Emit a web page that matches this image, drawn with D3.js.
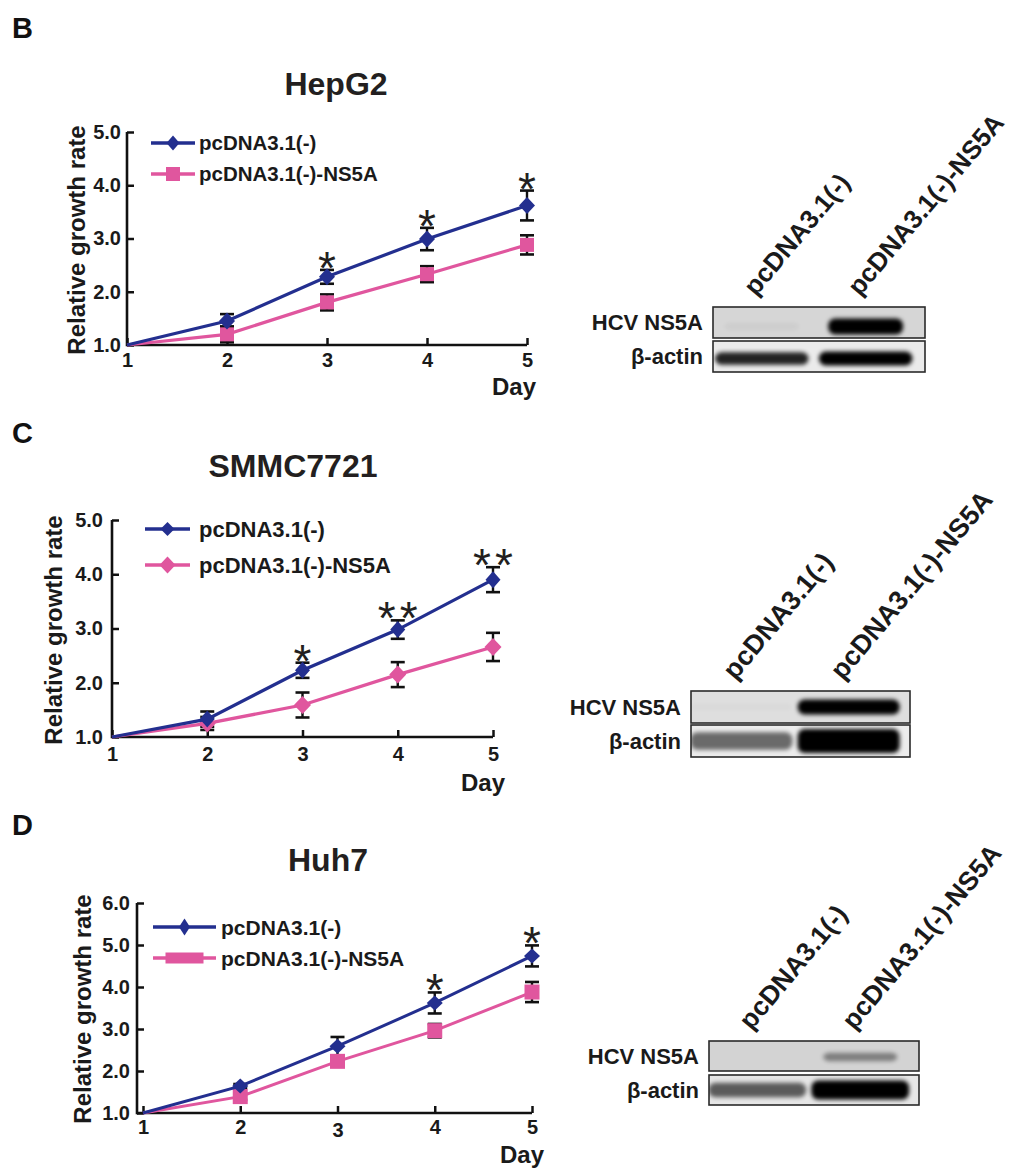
<!DOCTYPE html>
<html>
<head>
<meta charset="utf-8">
<script src="https://cdn.jsdelivr.net/npm/d3@7"></script>
<style>
  body { margin: 0; background: #fff; }
  svg text { font-family: "Liberation Sans", Arial, sans-serif; font-weight: bold; fill: #1a1a1a; }
</style>
</head>
<body>
<svg id="fig" width="1024" height="1172"></svg>
<script>
// ---- data ----
const days = [1, 2, 3, 4, 5];
const seriesNames = ["pcDNA3.1(-)", "pcDNA3.1(-)-NS5A"];
const yTicks5 = [1, 2, 3, 4, 5];
const yTicks6 = [1, 2, 3, 4, 5, 6];

// HepG2
const hepg2Ctrl = [1.0, 1.45, 2.28, 2.99, 3.62];
const hepg2CtrlErr = [0, 0.13, 0.13, 0.21, 0.28];
const hepg2Ns5a = [1.0, 1.20, 1.80, 2.33, 2.88];
const hepg2Ns5aErr = [0, 0.15, 0.15, 0.15, 0.18];
const hepg2Stars = ["", "", "*", "*", "*"];

// SMMC7721
const smmcCtrl = [1.0, 1.33, 2.23, 2.98, 3.90];
const smmcCtrlErr = [0, 0.14, 0.14, 0.17, 0.23];
const smmcNs5a = [1.0, 1.25, 1.59, 2.15, 2.66];
const smmcNs5aErr = [0, 0.12, 0.23, 0.23, 0.26];
const smmcStars = ["", "", "*", "**", "**"];

// Huh7
const huh7Ctrl = [1.0, 1.64, 2.59, 3.62, 4.74];
const huh7CtrlErr = [0, 0.05, 0.22, 0.25, 0.25];
const huh7Ns5a = [1.0, 1.39, 2.23, 2.96, 3.88];
const huh7Ns5aErr = [0, 0.08, 0.08, 0.16, 0.24];
const huh7Stars = ["", "", "", "*", "*"];

// western blots: lanes, rows, relative band intensity (0-1)
const blotLanes = ["pcDNA3.1(-)", "pcDNA3.1(-)-NS5A"];
const blotRows = ["HCV NS5A", "β-actin"];
const hepg2Ns5aBand = [0.04, 1.0];
const hepg2ActinBand = [0.85, 1.0];
const smmcNs5aBand = [0.02, 1.0];
const smmcActinBand = [0.55, 1.0];
const huh7Ns5aBand = [0.0, 0.4];
const huh7ActinBand = [0.6, 1.0];

const BLUE = "#232f8f";
const PINK = "#e0569e";

const svg = d3.select("#fig");
svg.append("rect").attr("width", 1024).attr("height", 1172).attr("fill", "#fff");

const defs = svg.append("defs");
defs.append("filter").attr("id", "blur").attr("x", "-20%").attr("y", "-60%")
  .attr("width", "140%").attr("height", "220%")
  .append("feGaussianBlur").attr("stdDeviation", 2.2);

function markerPath(type, hw, hh) {
  if (type === "diamond") return `M0,${-hh}L${hw},0L0,${hh}L${-hw},0Z`;
  return `M${-hw},${-hh}H${hw}V${hh}H${-hw}Z`;
}

// ===== LINE CHARTS =====
const charts = [
  { letter: "B", letterY: 38, title: "HepG2", titleX: 336, titleY: 95,
    ctrl: hepg2Ctrl, ctrlErr: hepg2CtrlErr, ns5a: hepg2Ns5a, ns5aErr: hepg2Ns5aErr, stars: hepg2Stars,
    yTicks: yTicks5, axisX: 127, xRange: [127, 527], yRange: [345, 132],
    yLabelX: 77, yLabelY: 240, tickPad: 6, xTickPad: 8, dayX: 514, dayY: 395,
    legend: { x0: 151, x1: 195, rows: [143, 174], textX: 199, size: 20.5,
      ctrlMk: [6.5, 7.5], nsType: "square", nsMk: [7, 7] },
    ctrlMk: [8, 8.5], nsType: "square", nsMk: [7, 7], lw: 3.2 },
  { letter: "C", letterY: 443, title: "SMMC7721", titleX: 293, titleY: 477,
    ctrl: smmcCtrl, ctrlErr: smmcCtrlErr, ns5a: smmcNs5a, ns5aErr: smmcNs5aErr, stars: smmcStars,
    yTicks: yTicks5, axisX: 112, xRange: [112, 493], yRange: [737, 520],
    yLabelX: 54, yLabelY: 630, tickPad: 9, xTickPad: 10, dayX: 483, dayY: 791,
    legend: { x0: 145, x1: 190, rows: [529, 565], textX: 199, size: 22,
      ctrlMk: [7, 7], nsType: "diamond", nsMk: [8, 8.5] },
    ctrlMk: [7.5, 8.5], nsType: "diamond", nsMk: [8.5, 9], lw: 3.2 },
  { letter: "D", letterY: 835, title: "Huh7", titleX: 328, titleY: 871,
    ctrl: huh7Ctrl, ctrlErr: huh7CtrlErr, ns5a: huh7Ns5a, ns5aErr: huh7Ns5aErr, stars: huh7Stars,
    yTicks: yTicks6, axisX: 137, xRange: [143, 532], yRange: [1113, 903],
    yLabelX: 83, yLabelY: 1009, tickPad: 7, xTickPad: 7, dayX: 522, dayY: 1163,
    legend: { x0: 153, x1: 216, rows: [927, 958], textX: 221, size: 21,
      ctrlMk: [5.5, 8.5], nsType: "square", nsMk: [19, 5.5] },
    ctrlMk: [8, 7.5], nsType: "square", nsMk: [7.5, 7.5], lw: 3 }
];

charts.forEach(c => {
  const g = svg.append("g");
  const yMax = d3.max(c.yTicks);
  const x = d3.scaleLinear().domain([1, 5]).range(c.xRange);
  const y = d3.scaleLinear().domain([1, yMax]).range(c.yRange);

  g.append("text").attr("x", 12).attr("y", c.letterY)
    .style("font-size", "29px").style("fill", "#111").text(c.letter);

  g.append("text").attr("x", c.titleX).attr("y", c.titleY)
    .attr("text-anchor", "middle").style("font-size", "32px").style("fill", "#231f20")
    .text(c.title);

  // axes
  const xAxis = g.append("g").attr("transform", `translate(0,${y(1)})`)
    .call(d3.axisBottom(x).tickValues(days).tickFormat(d3.format("d"))
      .tickSize(-7).tickSizeOuter(0).tickPadding(c.xTickPad));
  const yAxis = g.append("g").attr("transform", `translate(${c.axisX},0)`)
    .call(d3.axisLeft(y).tickValues(c.yTicks).tickFormat(d3.format(".1f"))
      .tickSize(-7).tickSizeOuter(0).tickPadding(c.tickPad));
  [xAxis, yAxis].forEach(a => {
    a.select(".domain").remove();
    a.selectAll(".tick line").attr("stroke", "#111").attr("stroke-width", 2.5);
    a.selectAll(".tick text").style("font-size", "20px")
      .style("font-family", "'Liberation Sans', Arial, sans-serif").style("font-weight", "bold")
      .attr("fill", "#1a1a1a");
  });
  if (c.letter === "D") xAxis.selectAll(".tick text").filter(d => d === 3).attr("dy", "0.86em");

  g.append("line").attr("x1", c.axisX).attr("x2", x(5)).attr("y1", y(1)).attr("y2", y(1))
    .attr("stroke", "#111").attr("stroke-width", 2.6);
  g.append("line").attr("x1", c.axisX).attr("x2", c.axisX).attr("y1", y(1) + 1.3).attr("y2", y(yMax))
    .attr("stroke", "#111").attr("stroke-width", 2.6);

  g.append("text").attr("transform", `translate(${c.yLabelX},${c.yLabelY}) rotate(-90)`)
    .attr("text-anchor", "middle").attr("dy", "0.35em").style("font-size", "24px")
    .text("Relative growth rate");
  g.append("text").attr("x", c.dayX).attr("y", c.dayY).attr("text-anchor", "middle")
    .style("font-size", "24px").text("Day");

  const series = [
    { vals: c.ctrl, err: c.ctrlErr, color: BLUE, type: "diamond", mk: c.ctrlMk },
    { vals: c.ns5a, err: c.ns5aErr, color: PINK, type: c.nsType, mk: c.nsMk }
  ];

  // error bars
  series.forEach(s => {
    const eb = g.append("g").selectAll("g").data(days.map((d, i) => ({ d, v: s.vals[i], e: s.err[i] }))
      .filter(p => p.e > 0)).join("g");
    eb.append("line").attr("x1", p => x(p.d)).attr("x2", p => x(p.d))
      .attr("y1", p => y(p.v - p.e)).attr("y2", p => y(p.v + p.e))
      .attr("stroke", "#111").attr("stroke-width", 2.4);
    [-1, 1].forEach(sgn => {
      eb.append("line").attr("x1", p => x(p.d) - 7).attr("x2", p => x(p.d) + 7)
        .attr("y1", p => y(p.v + sgn * p.e)).attr("y2", p => y(p.v + sgn * p.e))
        .attr("stroke", "#111").attr("stroke-width", 2.6);
    });
  });

  // lines + markers (control on top)
  [series[1], series[0]].forEach(s => {
    g.append("path").datum(s.vals)
      .attr("d", d3.line().x((v, i) => x(days[i])).y(v => y(v)))
      .attr("fill", "none").attr("stroke", s.color).attr("stroke-width", c.lw);
    g.append("g").selectAll("path").data(s.vals.slice(1)).join("path")
      .attr("transform", (v, i) => `translate(${x(days[i + 1])},${y(v)})`)
      .attr("d", markerPath(s.type, s.mk[0], s.mk[1])).attr("fill", s.color);
  });

  // significance stars
  c.stars.forEach((st, i) => {
    if (!st) return;
    const top = y(c.ctrl[i] + c.ctrlErr[i]) - 12;
    st.split("").forEach((ch, k) => {
      const off = (k - (st.length - 1) / 2) * 22;
      g.append("text").attr("x", x(days[i]) + off).attr("y", top + 26)
        .attr("text-anchor", "middle")
        .style("font-size", "46px").style("font-weight", "normal").style("fill", "#231f20")
        .text(ch);
    });
  });

  // legend
  const L = c.legend;
  const legSeries = [
    { color: BLUE, type: "diamond", mk: L.ctrlMk },
    { color: PINK, type: L.nsType, mk: L.nsMk }
  ];
  legSeries.forEach((s, i) => {
    const ry = L.rows[i];
    g.append("line").attr("x1", L.x0).attr("x2", L.x1).attr("y1", ry).attr("y2", ry)
      .attr("stroke", s.color).attr("stroke-width", 3.4);
    g.append("path").attr("transform", `translate(${(L.x0 + L.x1) / 2},${ry})`)
      .attr("d", markerPath(s.type, s.mk[0], s.mk[1])).attr("fill", s.color);
    g.append("text").attr("x", L.textX).attr("y", ry).attr("dy", "0.36em")
      .style("font-size", L.size + "px").text(seriesNames[i]);
  });
});

// ===== WESTERN BLOTS =====
const blots = [
  { x0: 713, x1: 925, tops: [307, 341], rowH: 31, labelSize: 26,
    bands: [hepg2Ns5aBand, hepg2ActinBand], bg: ["#d6d6d6", "#ebebeb"],
    bandW: [0.72, 0.9], bandH: [16, 14], bandDy: [4, 2] },
  { x0: 691, x1: 910, tops: [691, 725], rowH: 32, labelSize: 27,
    bands: [smmcNs5aBand, smmcActinBand], bg: ["#dedede", "#ececec"],
    bandW: [0.95, 0.95], bandH: [15, 24], bandDy: [0, 0] },
  { x0: 709, x1: 919, tops: [1041, 1075], rowH: 30, labelSize: 26.5,
    bands: [huh7Ns5aBand, huh7ActinBand], bg: ["#d3d3d3", "#e6e6e6"],
    bandW: [0.72, 0.95], bandH: [13, 19], bandDy: [1, 0] }
];

blots.forEach((b, bi) => {
  const g = svg.append("g");
  const w = b.x1 - b.x0;
  const lane = d3.scalePoint().domain(blotLanes).range([b.x0 + 0.23 * w, b.x0 + 0.72 * w]);
  const step = lane.step();

  blotRows.forEach((row, ri) => {
    const top = b.tops[ri];
    const cid = `clip${bi}${ri}`;
    defs.append("clipPath").attr("id", cid).append("rect")
      .attr("x", b.x0).attr("y", top).attr("width", w).attr("height", b.rowH);
    g.append("rect").attr("x", b.x0).attr("y", top).attr("width", w).attr("height", b.rowH)
      .attr("fill", b.bg[ri]);
    const bg = g.append("g").attr("clip-path", `url(#${cid})`);
    bg.selectAll("rect").data(blotLanes).join("rect")
      .attr("x", l => lane(l) - step * b.bandW[ri] / 2)
      .attr("width", step * b.bandW[ri])
      .attr("y", (l, li) => top + b.rowH / 2 + b.bandDy[ri] - b.bandH[ri] * (0.4 + 0.6 * b.bands[ri][li]) / 2)
      .attr("height", (l, li) => b.bandH[ri] * (0.4 + 0.6 * b.bands[ri][li]))
      .attr("rx", 7)
      .attr("fill", "#050505")
      .attr("opacity", (l, li) => b.bands[ri][li])
      .attr("filter", "url(#blur)");
    g.append("rect").attr("x", b.x0).attr("y", top).attr("width", w).attr("height", b.rowH)
      .attr("fill", "none").attr("stroke", "#2a2a2a").attr("stroke-width", 1.6);
    g.append("text").attr("x", b.x0 - 10).attr("y", top + b.rowH / 2).attr("dy", "0.36em")
      .attr("text-anchor", "end").style("font-size", "22px").text(row);
  });

  blotLanes.forEach(l => {
    g.append("text")
      .attr("transform", `translate(${lane(l) - 6},${b.tops[0] - 10}) rotate(-50)`)
      .style("font-size", b.labelSize + "px").text(l);
  });
});
</script>
</body>
</html>
